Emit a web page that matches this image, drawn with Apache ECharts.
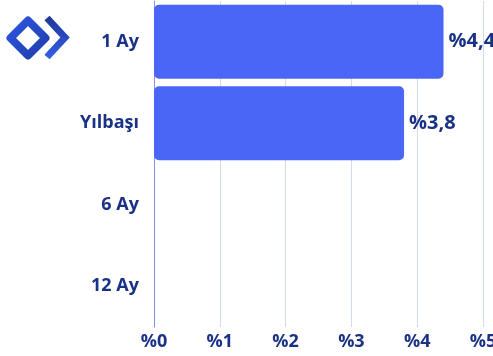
<!DOCTYPE html>
<html>
<head>
<meta charset="utf-8">
<script src="https://cdn.jsdelivr.net/npm/echarts@6/dist/echarts.min.js"></script>
<style>
  html, body { margin: 0; padding: 0; background: #ffffff; }
  #chart { width: 493px; height: 356px; }
</style>
</head>
<body>
<div id="chart"></div>
<script>
// Return periods and their values (percent)
const categories = ['1 Ay', 'Yılbaşı', '6 Ay', '12 Ay'];
const returns = [4.4, 3.8, null, null];
const xTicks = [0, 1, 2, 3, 4, 5];

const navy = '#1a3286';
const fontFamily = '"Open Sans", "DejaVu Sans", sans-serif';

const chart = echarts.init(document.getElementById('chart'));

chart.setOption({
  animation: false,
  grid: {
    left: 154, right: 10, top: 1, bottom: 29,
    containLabel: false,
    outerBoundsMode: 'none'
  },
  xAxis: {
    type: 'value',
    min: xTicks[0],
    max: xTicks[xTicks.length - 1],
    interval: 1,
    axisLine: { show: false },
    axisTick: { show: false },
    splitLine: { show: true, lineStyle: { color: '#d3d9ee', width: 1 } },
    axisLabel: {
      formatter: v => '%' + v,
      color: navy,
      fontFamily: fontFamily,
      fontWeight: 'bold',
      fontSize: 18,
      margin: 6
    }
  },
  yAxis: {
    type: 'category',
    inverse: true,
    data: categories,
    axisLine: { show: true, lineStyle: { color: '#7f95dd', width: 1 } },
    axisTick: { show: false },
    axisLabel: {
      color: navy,
      fontFamily: fontFamily,
      fontWeight: 'bold',
      fontSize: 18,
      margin: 15
    }
  },
  series: [{
    type: 'bar',
    data: returns,
    barCategoryGap: '9%',
    itemStyle: { color: '#4a66f4', borderRadius: 5 },
    label: {
      show: true,
      position: 'right',
      distance: 5,
      formatter: p => '%' + String(p.value).replace('.', ','),
      color: navy,
      fontFamily: fontFamily,
      fontWeight: 'bold',
      fontSize: 20
    }
  }],
  graphic: [
    {
      // diamond outline of the logo
      type: 'polygon',
      shape: { points: [[28, 20.5], [45.5, 38], [28, 55.5], [10.5, 38]] },
      style: {
        fill: 'none',
        stroke: new echarts.graphic.LinearGradient(0, 0, 1, 1, [
          { offset: 0, color: '#2f58e6' },
          { offset: 1, color: '#1d3aa6' }
        ]),
        lineWidth: 8,
        lineJoin: 'round'
      }
    },
    {
      // chevron of the logo
      type: 'polyline',
      shape: { points: [[47, 18], [65, 37.5], [47, 57]] },
      style: {
        fill: 'none',
        stroke: new echarts.graphic.LinearGradient(0, 0, 0, 1, [
          { offset: 0, color: '#1e3592' },
          { offset: 1, color: '#3460ee' }
        ]),
        lineWidth: 7,
        lineJoin: 'miter'
      }
    }
  ]
});
</script>
</body>
</html>
